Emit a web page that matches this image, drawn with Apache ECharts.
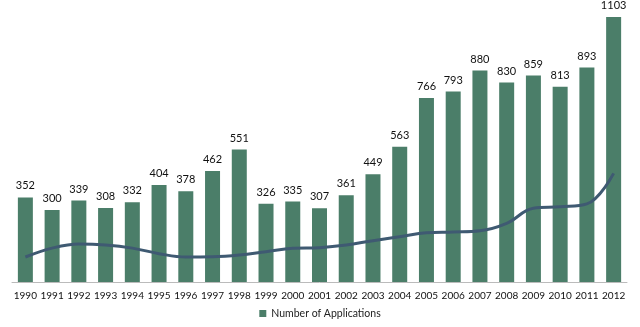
<!DOCTYPE html>
<html><head><meta charset="utf-8">
<script src="https://cdn.jsdelivr.net/npm/echarts@6/dist/echarts.min.js"></script>
<style>html,body{margin:0;padding:0;background:#fff}#c{width:640px;height:327px}</style>
</head><body><div id="c"></div>
<script>
const years = ['1990','1991','1992','1993','1994','1995','1996','1997','1998','1999','2000','2001','2002','2003','2004','2005','2006','2007','2008','2009','2010','2011','2012'];
const applications = [352,300,339,308,332,404,378,462,551,326,335,307,361,449,563,766,793,880,830,859,813,893,1103];
const trend = [104,141,158,154,141,118,104,105,112,126,140,143,154,172,188,205,208,213,244,307,313,325,452];

const chart = echarts.init(document.getElementById('c'), null, {renderer:'canvas'});
chart.setOption({
  animation:false,
  grid:{left:12,right:13,top:17,bottom:45,containLabel:false},
  legend:{data:['Number of Applications'],bottom:3,left:'center',itemWidth:7,itemHeight:7,itemGap:4,
    icon:'rect',textStyle:{fontFamily:'Lato',fontSize:10.5,color:'#222'}},
  xAxis:{type:'category',data:years,
    axisLine:{lineStyle:{color:'#bbbbbb',width:1}},axisTick:{show:false},
    axisLabel:{fontFamily:'Lato',fontSize:10,color:'#111',margin:9,interval:0}},
  yAxis:{type:'value',min:0,max:1103,show:false,splitLine:{show:false}},
  series:[
    {name:'Number of Applications',type:'bar',data:applications,barWidth:15,
     itemStyle:{color:'#4b7e69'},
     label:{show:true,position:'top',distance:6,fontFamily:'Lato',fontSize:11,color:'#111'}},
    {name:'trend',type:'line',data:trend,smooth:0.4,symbol:'none',
     lineStyle:{color:'#3f5a72',width:3}}
  ]
});
</script></body></html>
